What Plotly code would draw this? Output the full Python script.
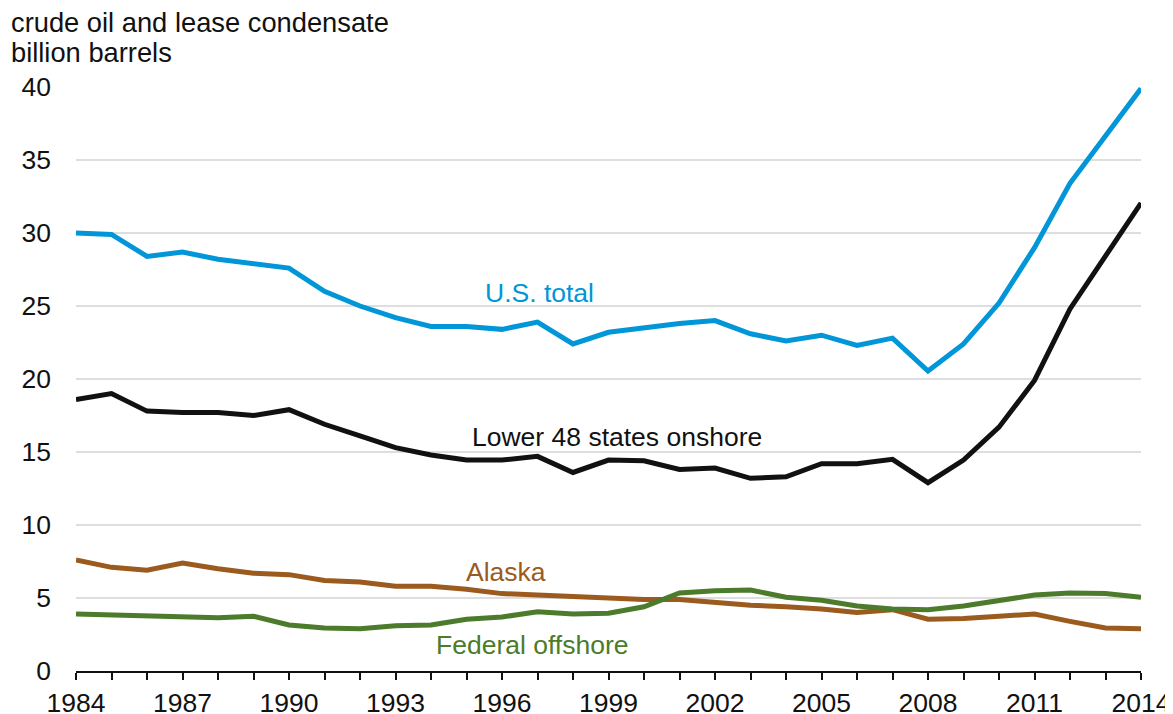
import plotly.graph_objects as go

years = list(range(1984, 2015))
us_total = [30.0, 29.9, 28.4, 28.7, 28.2, 27.9, 27.6, 26.0, 25.0, 24.2, 23.6, 23.6, 23.4, 23.9, 22.4,
            23.2, 23.5, 23.8, 24.0, 23.1, 22.6, 23.0, 22.3, 22.8, 20.55, 22.4, 25.2, 29.0, 33.4, 36.6, 39.9]
lower48 = [18.6, 19.0, 17.8, 17.7, 17.7, 17.5, 17.9, 16.9, 16.1, 15.3, 14.8, 14.45, 14.45, 14.7, 13.6,
           14.45, 14.4, 13.8, 13.9, 13.2, 13.3, 14.2, 14.2, 14.5, 12.9, 14.45, 16.7, 19.9, 24.8, 28.4, 32.05]
alaska = [7.6, 7.1, 6.9, 7.4, 7.0, 6.7, 6.6, 6.2, 6.1, 5.8, 5.8, 5.6, 5.3, 5.2, 5.1,
          5.0, 4.9, 4.9, 4.7, 4.5, 4.4, 4.25, 4.0, 4.2, 3.55, 3.6, 3.75, 3.9, 3.4, 2.95, 2.9]
federal = [3.9, 3.85, 3.75, 3.7, 3.65, 3.75, 3.15, 2.95, 2.9, 3.1, 3.15, 3.55, 3.7, 4.05, 3.9,
           3.95, 4.4, 5.35, 5.5, 5.55, 5.05, 4.85, 4.45, 4.25, 4.2, 4.45, 4.8, 5.2, 5.35, 5.3, 5.05]

series_names = ["Alaska", "Federal offshore", "Lower 48 states onshore", "U.S. total"]
series_values = [alaska, federal, lower48, us_total]
series_colors = ["#9b5a1e", "#4b7b2b", "#111111", "#0096d7"]

label_x = [1996.1, 1996.85, 1999.24, 1997.07]
label_y = [6.8, 1.75, 16.05, 25.9]

y_ticks = [0, 5, 10, 15, 20, 25, 30, 35, 40]
x_tick_text = [str(y) if (y - 1984) % 3 == 0 else "" for y in years]
title_lines = ["crude oil and lease condensate", "billion barrels"]

FONT = "Liberation Sans, Arial, sans-serif"

fig = go.Figure()
for name, vals, color in zip(series_names, series_values, series_colors):
    fig.add_trace(go.Scatter(x=years, y=vals, mode="lines", name=name,
                             line=dict(color=color, width=5), showlegend=False))

for name, x, y, color in zip(series_names, label_x, label_y, series_colors):
    fig.add_annotation(x=x, y=y, text=name, showarrow=False,
                       font=dict(color=color, size=26.5, family=FONT))

for line, ypos in zip(title_lines, [1.1096, 1.0599]):
    fig.add_annotation(xref="paper", yref="paper", x=-0.063, y=ypos, xanchor="left",
                       yanchor="middle", text=line, showarrow=False,
                       font=dict(size=27.3, color="#111111", family=FONT))

fig.update_layout(
    width=1173, height=714,
    margin=dict(l=68, r=40, t=79, b=51),
    paper_bgcolor="white", plot_bgcolor="white",
    font=dict(family=FONT, size=26, color="#111111"),
    xaxis=dict(range=[1984, 2014], tickvals=years, ticktext=x_tick_text,
               showgrid=False, showline=True, linecolor="#111111", linewidth=1.5,
               ticks="outside", ticklen=7, tickcolor="#111111", tickwidth=1.5,
               zeroline=False, tickfont=dict(size=26.5), automargin=False),
    yaxis=dict(range=[0, 40], tickvals=y_ticks, showgrid=True, gridcolor="#dedede",
               gridwidth=1.5, zeroline=False, showline=False, ticks="",
               tickfont=dict(size=26.5), ticklabelstandoff=24, automargin=False),
)

fig.write_html("out.html")
